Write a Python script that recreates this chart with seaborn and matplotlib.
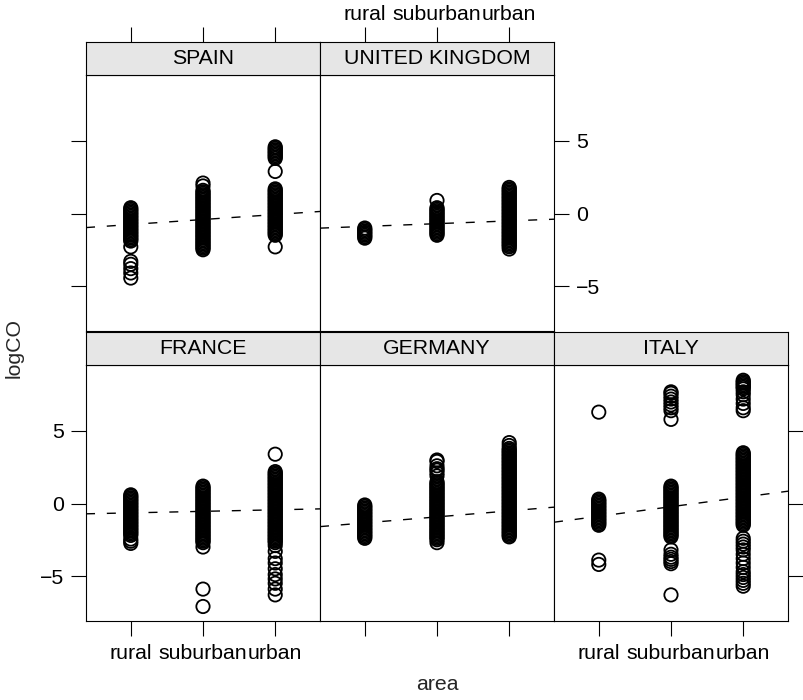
import numpy as np
import pandas as pd
import matplotlib
matplotlib.use("Agg")
import matplotlib.pyplot as plt
import seaborn as sns

# Categorias
areas = ["rural", "suburban", "urban"]

# logCO por país e área (colunas densas a cada ~0.1)
spain_rural = [0.4, 0.3, 0.2, 0.1, 0.0, -0.1, -0.2, -0.3, -0.4, -0.5, -0.6, -0.7, -0.8, -0.9,
               -1.0, -1.1, -1.2, -1.3, -1.4, -1.5, -1.6, -1.7, -1.8, -1.9,
               -2.3, -3.3, -3.5, -3.8, -4.1, -4.45]
spain_suburban = [2.1, 1.9, 1.6, 1.5, 1.4, 1.3, 1.2, 1.1, 1.0, 0.9, 0.8, 0.7, 0.6, 0.5, 0.4,
                  0.3, 0.2, 0.1, 0.0, -0.1, -0.2, -0.3, -0.4, -0.5, -0.6, -0.7, -0.8, -0.9,
                  -1.0, -1.1, -1.2, -1.3, -1.4, -1.5, -1.6, -1.7, -1.8, -1.9, -2.0, -2.1,
                  -2.2, -2.3, -2.4, -2.5]
spain_urban = [4.6, 4.5, 4.4, 4.3, 4.2, 4.1, 4.0, 3.9, 3.8, 2.9,
               1.7, 1.6, 1.5, 1.4, 1.3, 1.2, 1.1, 1.0, 0.9, 0.8, 0.7, 0.6, 0.5, 0.4, 0.3, 0.2,
               0.1, 0.0, -0.1, -0.2, -0.3, -0.4, -0.5, -0.6, -0.7, -0.8, -0.9, -1.0, -1.1,
               -1.2, -1.3, -1.4, -1.5, -2.3]

uk_rural = [-1.0, -1.1, -1.2, -1.3, -1.4, -1.5, -1.6, -1.7]
uk_suburban = [0.9, 0.4, 0.3, 0.2, 0.1, 0.0, -0.1, -0.2, -0.3, -0.4, -0.5, -0.6, -0.7, -0.8,
               -0.9, -1.0, -1.1, -1.2, -1.3, -1.4, -1.5]
uk_urban = [1.8, 1.7, 1.6, 1.5, 1.4, 1.3, 1.2, 1.1, 1.0, 0.9, 0.8, 0.7, 0.6, 0.5, 0.4, 0.3,
            0.2, 0.1, 0.0, -0.1, -0.2, -0.3, -0.4, -0.5, -0.6, -0.7, -0.8, -0.9, -1.0, -1.1,
            -1.2, -1.3, -1.4, -1.5, -1.6, -1.7, -1.8, -1.9, -2.0, -2.1, -2.2, -2.3, -2.45]

france_rural = [0.6, 0.5, 0.4, 0.3, 0.2, 0.1, 0.0, -0.1, -0.2, -0.3, -0.4, -0.5, -0.6, -0.7,
                -0.8, -0.9, -1.0, -1.1, -1.2, -1.3, -1.4, -1.5, -1.6, -1.7, -1.8, -1.9, -2.0,
                -2.1, -2.2, -2.45, -2.6, -2.75]
france_suburban = [1.2, 1.1, 1.0, 0.9, 0.8, 0.7, 0.6, 0.5, 0.4, 0.3, 0.2, 0.1, 0.0, -0.1, -0.2,
                   -0.3, -0.4, -0.5, -0.6, -0.7, -0.8, -0.9, -1.0, -1.1, -1.2, -1.3, -1.4,
                   -1.5, -1.6, -1.7, -1.8, -1.9, -2.0, -2.1, -2.2, -2.3, -2.4, -2.5, -2.6,
                   -2.7, -3.0, -5.9, -7.1]
france_urban = [3.4, 2.2, 2.1, 2.0, 1.9, 1.8, 1.7, 1.6, 1.5, 1.4, 1.3, 1.2, 1.1, 1.0, 0.9,
                0.8, 0.7, 0.6, 0.5, 0.4, 0.3, 0.2, 0.1, 0.0, -0.1, -0.2, -0.3, -0.4, -0.5,
                -0.6, -0.7, -0.8, -0.9, -1.0, -1.1, -1.2, -1.3, -1.4, -1.5, -1.6, -1.7, -1.8,
                -1.9, -2.0, -2.1, -2.2, -2.3, -2.4, -2.5, -2.6, -2.7, -2.9,
                -3.3, -3.8, -4.1, -4.5, -4.9, -5.2, -5.5, -5.9, -6.3]

germany_rural = [-0.1, -0.2, -0.3, -0.4, -0.5, -0.6, -0.7, -0.8, -0.9, -1.0, -1.1, -1.2,
                 -1.3, -1.4, -1.5, -1.6, -1.7, -1.8, -1.9, -2.0, -2.1, -2.2, -2.3, -2.4]
germany_suburban = [3.0, 2.9, 2.6, 2.4, 2.3, 2.1, 1.9,
                    1.5, 1.4, 1.3, 1.2, 1.1, 1.0, 0.9, 0.8, 0.7, 0.6, 0.5, 0.4, 0.3, 0.2,
                    0.1, 0.0, -0.1, -0.2, -0.3, -0.4, -0.5, -0.6, -0.7, -0.8, -0.9, -1.0,
                    -1.1, -1.2, -1.3, -1.4, -1.5, -1.6, -1.7, -1.8, -1.9, -2.0, -2.1, -2.2,
                    -2.3, -2.4, -2.5, -2.7]
germany_urban = [4.2, 4.0, 3.8, 3.7, 3.6, 3.5, 3.4, 3.3, 3.2, 3.1, 3.0, 2.9, 2.8, 2.7, 2.6,
                 2.5, 2.4, 2.3, 2.2, 2.1, 2.0, 1.9, 1.8, 1.7, 1.6, 1.5, 1.4, 1.3, 1.2, 1.1,
                 1.0, 0.9, 0.8, 0.7, 0.6, 0.5, 0.4, 0.3, 0.2, 0.1, 0.0, -0.1, -0.2, -0.3,
                 -0.4, -0.5, -0.6, -0.7, -0.8, -0.9, -1.0, -1.1, -1.2, -1.3, -1.4, -1.5,
                 -1.6, -1.7, -1.8, -1.9, -2.0, -2.1, -2.2, -2.3]

italy_rural = [6.3, 0.3, 0.2, 0.1, 0.0, -0.1, -0.2, -0.3, -0.4, -0.5, -0.6, -0.7, -0.8, -0.9,
               -1.0, -1.1, -1.2, -1.3, -1.4, -1.5, -3.9, -4.2]
italy_suburban = [7.7, 7.6, 7.4, 7.2, 7.0, 6.8, 6.6, 6.4, 5.8,
                  1.2, 1.1, 1.0, 0.9, 0.8, 0.7, 0.6, 0.5, 0.4, 0.3, 0.2, 0.1, 0.0, -0.1,
                  -0.2, -0.3, -0.4, -0.5, -0.6, -0.7, -0.8, -0.9, -1.0, -1.1, -1.2, -1.3,
                  -1.4, -1.5, -1.6, -1.7, -1.8, -1.9, -2.0, -2.1, -2.2, -2.3,
                  -3.2, -3.5, -3.7, -3.85, -4.0, -4.15, -6.3]
italy_urban = [8.5, 8.4, 8.3, 8.2, 8.1, 8.0, 7.9, 7.7, 7.5, 7.2, 6.9, 6.6, 6.4,
               3.5, 3.4, 3.3, 3.2, 3.1, 3.0, 2.9, 2.8, 2.7, 2.6, 2.5, 2.4, 2.3, 2.2, 2.1, 2.0,
               1.9, 1.8, 1.7, 1.6, 1.5, 1.4, 1.3, 1.2, 1.1, 1.0, 0.9, 0.8, 0.7, 0.6, 0.5,
               0.4, 0.3, 0.2, 0.1, 0.0, -0.1, -0.2, -0.3, -0.4, -0.5, -0.6, -0.7, -0.8,
               -0.9, -1.0, -1.1, -1.2, -1.3, -1.4, -1.5,
               -2.4, -2.6, -2.8, -3.0, -3.2, -3.5, -3.8, -4.1, -4.4, -4.7, -4.9, -5.1,
               -5.3, -5.5, -5.7]

# Retas de regressão (intercepto, inclinação) com area codificada 1..3
fit_countries = ["SPAIN", "UNITED KINGDOM", "FRANCE", "GERMANY", "ITALY"]
fit_intercept = [-1.10, -1.08, -0.75, -1.75, -1.54]
fit_slope = [0.343, 0.19, 0.105, 0.414, 0.66]

series = {
    "SPAIN": [spain_rural, spain_suburban, spain_urban],
    "UNITED KINGDOM": [uk_rural, uk_suburban, uk_urban],
    "FRANCE": [france_rural, france_suburban, france_urban],
    "GERMANY": [germany_rural, germany_suburban, germany_urban],
    "ITALY": [italy_rural, italy_suburban, italy_urban],
}
rows = []
for country, vals in series.items():
    for i, area in enumerate(areas):
        for v in vals[i]:
            rows.append({"country": country, "area": area, "x": i + 1, "logCO": v})
df = pd.DataFrame(rows)

sns.set_theme(style="white")
plt.rcParams["font.family"] = ["Liberation Sans", "DejaVu Sans"]
FS = 15.3

W, H = 804, 700
fig = plt.figure(figsize=(W / 100, H / 100), dpi=100)

col_x = [86, 320, 554]
pw, ph, sh = 234, 256, 33
row_top = [75, 365]   # topo do painel em pixels
xlim = (0.38, 3.62)
ylim = (-8.1, 9.55)
tick_len = 10.8


def px_axes(x0, y0, w, h):
    return fig.add_axes([x0 / W, 1 - (y0 + h) / H, w / W, h / H])


def style_box(ax):
    for s in ax.spines.values():
        s.set_visible(True)
        s.set_color("black")
        s.set_linewidth(0.8)


layout = [(0, 0, "SPAIN"), (0, 1, "UNITED KINGDOM"),
          (1, 0, "FRANCE"), (1, 1, "GERMANY"), (1, 2, "ITALY")]

for r, c, country in layout:
    ax = px_axes(col_x[c], row_top[r], pw, ph)
    sub = df[df["country"] == country]
    sns.scatterplot(data=sub, x="x", y="logCO", ax=ax, marker="o", s=92,
                    facecolor="none", edgecolor="black", linewidth=1.3, legend=False)
    k = fit_countries.index(country)
    ax.axline((0, fit_intercept[k]), slope=fit_slope[k], color="black",
              linestyle=(0, (6.5, 8.5)), linewidth=1.0)
    ax.set_xlim(*xlim)
    ax.set_ylim(*ylim)
    ax.set_xlabel("")
    ax.set_ylabel("")
    ax.set_xticks([1, 2, 3])
    ax.set_yticks([-5, 0, 5])
    style_box(ax)
    ax.tick_params(axis="both", direction="out", length=tick_len, width=0.8,
                   color="black", labelsize=FS, labelcolor="black", pad=5,
                   bottom=False, top=False, left=False, right=False,
                   labelbottom=False, labeltop=False, labelleft=False, labelright=False)

    # eixos alternados estilo lattice
    if r == 1:
        ax.tick_params(axis="x", bottom=True, labelbottom=(c != 1), pad=6)
        ax.set_xticklabels(areas)
    if c == 0:
        ax.tick_params(axis="y", left=True, labelleft=(r == 1))
    if (r == 0 and c == 1) or (r == 1 and c == 2):
        ax.tick_params(axis="y", right=True, labelright=(r == 0))

    # faixa (strip)
    sax = px_axes(col_x[c], row_top[r] - sh, pw, sh)
    sax.set_facecolor("#e6e6e6")
    style_box(sax)
    sax.set_xlim(*xlim)
    sax.set_ylim(0, 1)
    sax.set_yticks([])
    sax.set_xticks([1, 2, 3])
    sax.text(0.5, 0.5, country, transform=sax.transAxes, ha="center", va="center",
             fontsize=FS, color="black")
    sax.tick_params(axis="x", direction="out", length=tick_len, width=0.8, color="black",
                    labelsize=FS, labelcolor="black", pad=2,
                    bottom=False, labelbottom=False, top=(r == 0), labeltop=(r == 0 and c == 1))
    if r == 0:
        sax.set_xticklabels(areas)

fig.text(437.5 / W, 1 - 685 / H, "area", ha="center", va="center", fontsize=FS)
fig.text(14 / W, 1 - 348 / H, "logCO", ha="center", va="center", rotation=90, fontsize=FS)

fig.savefig("out.png", dpi=100, facecolor="white")
